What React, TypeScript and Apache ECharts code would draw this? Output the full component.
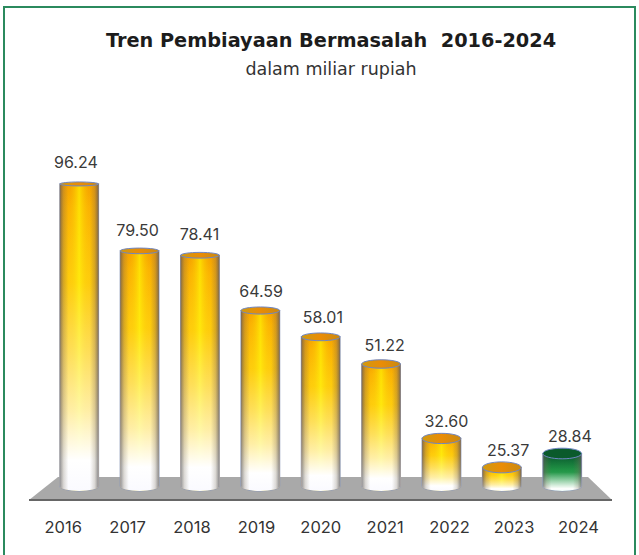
import React, { useEffect, useRef } from "react";
import * as echarts from "echarts";

const years = ["2016", "2017", "2018", "2019", "2020", "2021", "2022", "2023", "2024"];
const values = [96.24, 79.5, 78.41, 64.59, 58.01, 51.22, 32.6, 25.37, 28.84];
const titleText = "Tren Pembiayaan Bermasalah  2016-2024";
const subtitleText = "dalam miliar rupiah";
const FONT = "Inter, 'Noto Sans', sans-serif";
const TITLE_FONT = "'DejaVu Sans', Inter, sans-serif";
const Y_MIN = 18;
const Y_MAX = 98;

const yellowStops = [
  { offset: 0, color: "#f49c00" },
  { offset: 0.08, color: "#fbb000" },
  { offset: 0.3, color: "#ffcc00" },
  { offset: 1, color: "#ffd800" },
];
const greenStops = [
  { offset: 0, color: "#07502a" },
  { offset: 0.45, color: "#0b8a34" },
  { offset: 1, color: "#2aa850" },
];

const linear = (x2: number, y2: number, colorStops: any[]) => ({
  type: "linear", x: 0, y: 0, x2, y2, global: false, colorStops,
});

const glow = linear(1, 0, [
  { offset: 0, color: "rgba(225,130,10,0.55)" },
  { offset: 0.25, color: "rgba(250,190,0,0.2)" },
  { offset: 0.5, color: "rgba(255,240,0,0.75)" },
  { offset: 0.75, color: "rgba(250,190,0,0.2)" },
  { offset: 1, color: "rgba(225,130,10,0.55)" },
]);
const whiteFade = linear(0, 1, [
  { offset: 0, color: "rgba(255,255,255,0)" },
  { offset: 0.32, color: "rgba(255,255,255,0.05)" },
  { offset: 0.55, color: "rgba(255,255,255,0.35)" },
  { offset: 0.74, color: "rgba(255,255,255,0.65)" },
  { offset: 0.9, color: "rgba(255,255,255,1)" },
  { offset: 1, color: "rgba(250,250,255,1)" },
]);
const whiteFadeGreen = linear(0, 1, [
  { offset: 0, color: "rgba(255,255,255,0)" },
  { offset: 0.5, color: "rgba(255,255,255,0.1)" },
  { offset: 0.75, color: "rgba(255,255,255,0.6)" },
  { offset: 0.94, color: "rgba(255,255,255,1)" },
  { offset: 1, color: "rgba(240,250,250,1)" },
]);
const edges = linear(1, 0, [
  { offset: 0, color: "rgba(85,85,90,0.65)" },
  { offset: 0.1, color: "rgba(120,110,90,0.25)" },
  { offset: 0.22, color: "rgba(120,110,90,0)" },
  { offset: 0.78, color: "rgba(120,110,90,0)" },
  { offset: 0.9, color: "rgba(120,110,90,0.25)" },
  { offset: 1, color: "rgba(85,85,90,0.7)" },
]);
const capYellow = linear(1, 0, [
  { offset: 0, color: "#cf9a10" },
  { offset: 0.5, color: "#ea8c06" },
  { offset: 1, color: "#c98a12" },
]);

function renderCylinder(params: any, api: any) {
  const i = api.value(0);
  const top = api.coord([i, api.value(1)]);
  const base = api.coord([i, Y_MIN]);
  const band = api.size([1, 0])[0];
  const w = band * 0.64;
  const left = top[0] - w / 2;
  const rx = w / 2;
  const ryTop = 2 + (top[1] - 183) * 0.0125;
  const ryBase = 5;
  const bodyTop = top[1] + ryTop;
  const bodyBottom = base[1] - ryBase;
  const green = i === years.length - 1;
  const d =
    `M${left} ${bodyTop} L${left + w} ${bodyTop} L${left + w} ${bodyBottom} ` +
    `A${rx} ${ryBase} 0 0 1 ${left} ${bodyBottom} Z`;
  const shape = { pathData: d, x: left, y: bodyTop, width: w, height: bodyBottom + ryBase - bodyTop, layout: "cover" };
  const layer = (style: any) => ({ type: "path", shape, style });
  const layers = [
    layer({ fill: linear(0, 1, green ? greenStops : yellowStops), stroke: "#8d9ab8", lineWidth: 1.2 }),
    ...(green ? [] : [layer({ fill: glow })]),
    layer({ fill: green ? whiteFadeGreen : whiteFade }),
    layer({ fill: edges }),
  ];
  return {
    type: "group",
    children: [
      ...layers,
      {
        type: "ellipse",
        shape: { cx: top[0], cy: bodyTop, rx, ry: ryTop },
        style: { fill: green ? "#0a5a2c" : capYellow, stroke: "#6f86c4", lineWidth: 1 },
      },
    ],
  };
}

export default function App() {
  const ref = useRef<HTMLDivElement>(null);
  useEffect(() => {
    document.body.style.margin = "0";
    const chart = echarts.init(ref.current!, undefined, { renderer: "svg" });
    const yAxisBase = { type: "value", min: Y_MIN, max: Y_MAX, show: false };
    const catHidden = { type: "category", data: years, show: false };
    chart.setOption({
      animation: false,
      backgroundColor: "#ffffff",
      title: [
        {
          text: titleText,
          left: 326,
          top: 26,
          textAlign: "center",
          textStyle: { fontFamily: TITLE_FONT, fontSize: 19.3, fontWeight: 700, color: "#1c1c1c" },
        },
        {
          text: subtitleText,
          left: 326,
          top: 55,
          textAlign: "center",
          textStyle: { fontFamily: TITLE_FONT, fontSize: 17.5, fontWeight: 400, color: "#333333" },
        },
      ],
      grid: [
        { left: 49, width: 543.4, top: 175, height: 316 },
        { left: 45, width: 555.75, top: 175, height: 316 },
        { left: 31, width: 579.6, top: 175, height: 316 },
      ],
      xAxis: [
        { ...catHidden, gridIndex: 0 },
        { ...catHidden, gridIndex: 1 },
        {
          type: "category",
          data: years,
          gridIndex: 2,
          axisLine: { show: false },
          axisTick: { show: false },
          axisLabel: { margin: 27, color: "#333333", fontFamily: FONT, fontSize: 16.5 },
        },
      ],
      yAxis: [
        { ...yAxisBase, gridIndex: 0 },
        { ...yAxisBase, gridIndex: 1 },
        { ...yAxisBase, gridIndex: 2 },
      ],
      graphic: [
        {
          type: "polygon",
          z: 0,
          shape: { points: [[29, 500], [58, 477], [588, 477], [612, 500]] },
          style: { fill: "#a9a9a9" },
        },
        {
          type: "line",
          z: 0,
          shape: { x1: 29, y1: 500, x2: 612, y2: 500 },
          style: { stroke: "#666666", lineWidth: 2 },
        },
        {
          type: "polyline",
          z: 0,
          shape: { points: [[4, 555], [4, 7], [635, 7], [635, 555]] },
          style: { stroke: "#2b8a5e", lineWidth: 2, fill: "none" },
        },
      ],
      series: [
        {
          type: "custom",
          xAxisIndex: 0,
          yAxisIndex: 0,
          renderItem: renderCylinder,
          encode: { x: 0, y: 1 },
          clip: false,
          data: values.map((v, i) => [i, v]),
        },
        {
          type: "scatter",
          xAxisIndex: 1,
          yAxisIndex: 1,
          symbolSize: 0,
          itemStyle: { opacity: 1 },
          data: values.map((v, i) => ({
            value: [i, v],
            label: { distance: 3.5 + (v - 25) * 0.12 },
          })),
          label: {
            show: true,
            position: "top",
            color: "#3a3a3a",
            opacity: 1,
            fontFamily: FONT,
            fontSize: 16,
            formatter: (p: any) => p.value[1].toFixed(2),
          },
        },
      ],
    });
    return () => chart.dispose();
  }, []);
  return <div ref={ref} style={{ width: 639, height: 555 }} />;
}
